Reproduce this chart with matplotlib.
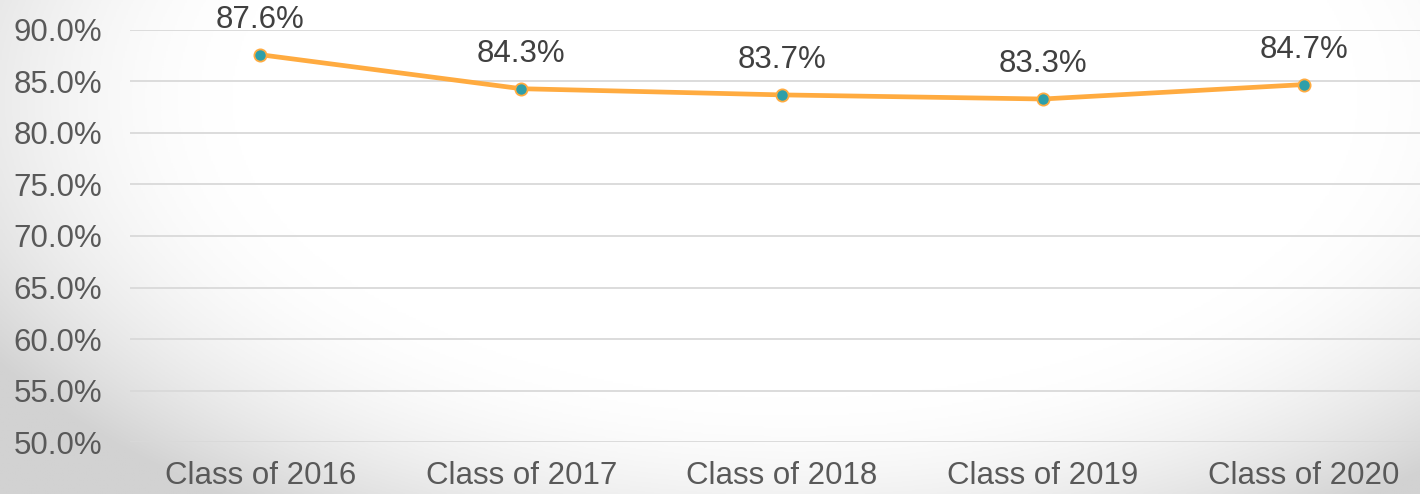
import matplotlib

matplotlib.use("Agg")
import matplotlib.pyplot as plt
import numpy as np
from matplotlib.colors import LinearSegmentedColormap

categories = ["Class of 2016", "Class of 2017", "Class of 2018", "Class of 2019", "Class of 2020"]
rates = [87.6, 84.3, 83.7, 83.3, 84.7]
y_ticks = [50, 55, 60, 65, 70, 75, 80, 85, 90]

LINE_COLOR = "#FFAB40"
MARKER_COLOR = "#2E9FA9"
TICK_COLOR = "#595959"
LABEL_COLOR = "#404040"
GRID_COLOR = "#D9D9D9"
FONT = ["Liberation Sans", "DejaVu Sans"]
SIZE = 22.5

plt.rcParams["font.family"] = FONT

fig = plt.figure(figsize=(14.2, 4.94), dpi=100)

# soft vignette behind the chart, mostly white, greyer toward the lower corners
bg = fig.add_axes([0, 0, 1, 1], zorder=-10)
yy, xx = np.mgrid[0:1:300j, 0:1:800j]
dist = np.sqrt(((xx - 0.56) / 0.62) ** 2 + ((yy - 0.2) / 0.95) ** 2)
shade = np.clip((dist - 0.62) / 0.45, 0, 1) ** 1.8
cmap = LinearSegmentedColormap.from_list("vignette", ["#FFFFFF", "#D2D2D2"])
bg.imshow(shade, cmap=cmap, vmin=0, vmax=1, aspect="auto", extent=[0, 1, 0, 1], origin="upper")
bg.axis("off")

ax = fig.add_axes([130 / 1420, 52 / 494, 1304 / 1420, 412 / 494])
ax.patch.set_alpha(0)
x = np.arange(len(categories))
ax.plot(x, rates, color=LINE_COLOR, linewidth=3.4, marker="o", markersize=8.8,
        markerfacecolor=MARKER_COLOR, markeredgecolor=LINE_COLOR, markeredgewidth=1.3,
        zorder=3, clip_on=False)
for xi, val in zip(x, rates):
    ax.annotate(f"{val:.1f}%", xy=(xi, val), xytext=(0, 25), textcoords="offset points",
                ha="center", va="center", fontsize=SIZE, color=LABEL_COLOR, family=FONT)

ax.set_xlim(-0.5, len(categories) - 0.5)
ax.set_ylim(50, 90)
ax.set_yticks(y_ticks)
ax.set_yticklabels([f"{t:.1f}%" for t in y_ticks])
ax.set_xticks(x)
ax.set_xticklabels(categories)
ax.tick_params(axis="both", length=0, labelsize=SIZE, labelcolor=TICK_COLOR)
ax.tick_params(axis="y", pad=20)
ax.tick_params(axis="x", pad=14)
ax.grid(axis="y", color=GRID_COLOR, linewidth=1.3)
ax.set_axisbelow(True)
for spine in ax.spines.values():
    spine.set_visible(False)

fig.savefig("out.png", dpi=100)
